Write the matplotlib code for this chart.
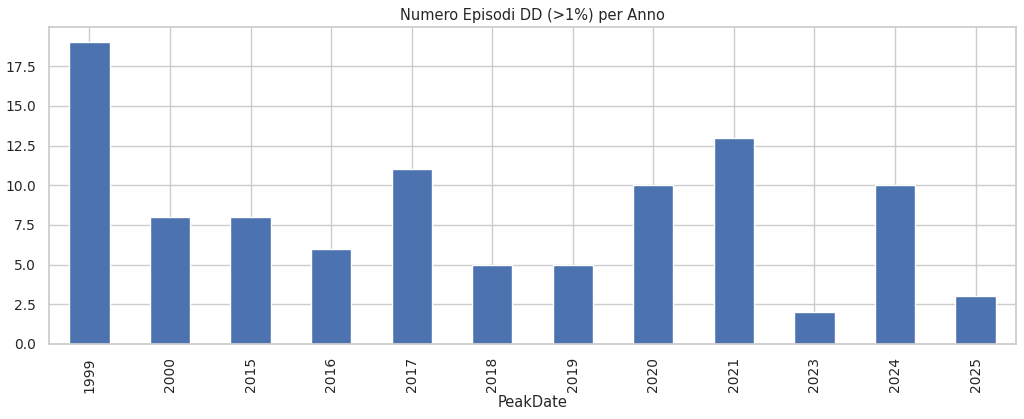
import matplotlib
matplotlib.use("Agg")
import matplotlib.pyplot as plt
import seaborn as sns
import pandas as pd

# episodi di drawdown > 1% per anno
years = ["1999", "2000", "2015", "2016", "2017", "2018", "2019", "2020", "2021", "2023", "2024", "2025"]
counts = [19, 8, 8, 6, 11, 5, 5, 10, 13, 2, 10, 3]

sns.set_theme(style="whitegrid")
plt.rcParams["font.family"] = ["DejaVu Sans"]

s = pd.Series(counts, index=pd.Index(years, name="PeakDate"))

fig, ax = plt.subplots(figsize=(10.24, 4.19), dpi=100)
s.plot(kind="bar", ax=ax, color="#4C72B0", width=0.5)
ax.set_title("Numero Episodi DD (>1%) per Anno", fontsize=10.5, pad=5)
ax.set_xlabel("PeakDate", fontsize=10.5, labelpad=2)
ax.tick_params(axis="both", labelsize=10)
ax.grid(True, axis="both")
fig.subplots_adjust(left=0.048, right=0.992, top=0.935, bottom=0.179)
plt.savefig("out.png", dpi=100)
